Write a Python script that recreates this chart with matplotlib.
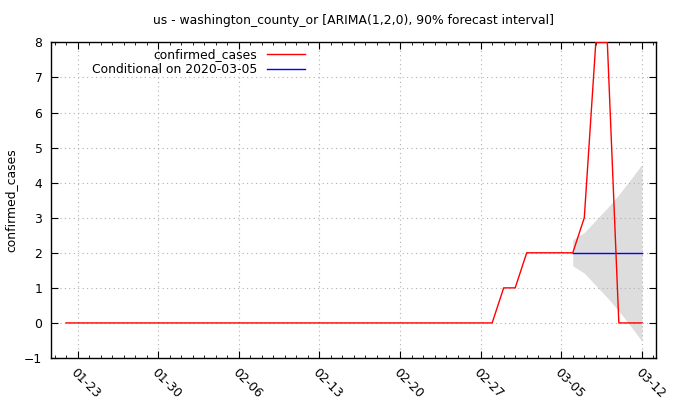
import numpy as np
import matplotlib
matplotlib.use('Agg')
import matplotlib.pyplot as plt
import matplotlib.dates as mdates

# observed series
dates = np.arange(np.datetime64('2020-01-22'), np.datetime64('2020-03-13'))
confirmed = [0] * 38 + [1, 1, 2, 2, 2, 2, 2, 3, 8, 8, 0, 0, 0]

# forecast conditional on 2020-03-05
fc_dates = np.arange(np.datetime64('2020-03-06'), np.datetime64('2020-03-13'))
fc_mean = [2, 2, 2, 2, 2, 2, 2]
fc_low = [1.63, 1.42, 1.07, 0.72, 0.34, -0.08, -0.52]
fc_high = [2.37, 2.58, 2.93, 3.28, 3.66, 4.08, 4.52]

tick_dates = np.arange(np.datetime64('2020-01-23'), np.datetime64('2020-03-13'), 7)

plt.rcParams['font.family'] = ['DejaVu Sans']
fs = 8.9

fig = plt.figure(figsize=(6.8, 4.0), dpi=100)
ax = fig.add_axes([0.0746, 0.105, 0.89, 0.789])

ax.fill_between(fc_dates, fc_low, fc_high, color='#dddddd', lw=0, zorder=1)
ax.plot(dates, confirmed, color='red', lw=1, label='confirmed_cases', zorder=3)
ax.plot(fc_dates, fc_mean, color='blue', lw=1, label='Conditional on 2020-03-05', zorder=2)

x0 = mdates.date2num(np.datetime64('2020-01-23'))
ax.set_xlim(x0 - 2.33, mdates.date2num(np.datetime64('2020-03-12')) + 1.22)
ax.set_ylim(-1, 8)
ax.set_yticks(range(-1, 9))

ax.set_xticks(mdates.date2num(tick_dates))
ax.xaxis.set_major_formatter(mdates.DateFormatter('%m-%d'))
ax.xaxis.set_minor_locator(mdates.DayLocator())
for lbl in ax.get_xticklabels():
    lbl.set_rotation(-45)
    lbl.set_ha('left')
    lbl.set_va('top')
    lbl.set_rotation_mode('anchor')

ax.tick_params(axis='both', which='both', direction='in', top=True, right=True,
               colors='black', labelsize=fs)
ax.tick_params(axis='x', which='major', length=5, pad=6)
ax.tick_params(axis='x', which='minor', length=2.5)
ax.tick_params(axis='y', which='major', length=5, pad=6)
ax.grid(True, which='major', color='#b0b0b0', linestyle=(0, (1, 3)), lw=0.8)
for s in ax.spines.values():
    s.set_linewidth(1.0)

ax.set_ylabel('confirmed_cases', fontsize=fs, labelpad=5)
ax.set_title('us - washington_county_or [ARIMA(1,2,0), 90% forecast interval]',
             fontsize=fs, pad=13)

ax.legend(loc='upper right', bbox_to_anchor=(0.435, 1.008), frameon=False,
          markerfirst=False, handlelength=3.1, fontsize=fs,
          borderpad=0.2, labelspacing=0.15, handletextpad=0.8)

fig.savefig('out.png', dpi=100)
